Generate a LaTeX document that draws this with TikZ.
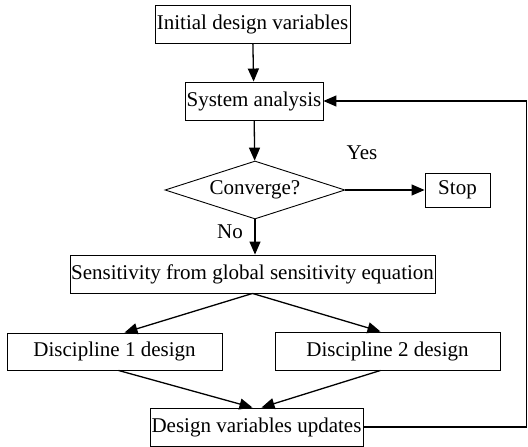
\documentclass[tikz,border=0pt]{standalone}
\usepackage{fontspec}
\setmainfont{Liberation Serif}
\usepackage{tikz}
\usetikzlibrary{arrows.meta,positioning,shapes.geometric}

\begin{document}
\begin{tikzpicture}[x=1pt,y=-1pt,font=\fontsize{21}{24}\selectfont,
  box/.style={draw,line width=0.9pt,inner sep=0.5pt,minimum height=38pt},
  decision/.style={draw,diamond,aspect=3,line width=0.9pt,inner sep=0pt,minimum width=180pt,minimum height=58pt},
  flow/.style={line width=1.3pt,-{Triangle[length=13pt,width=11pt]}}]
\useasboundingbox (0,0) rectangle (528,447);
\node[box,minimum width=195pt] (init) at (252.5,24) {Initial design variables};
\node[box,minimum width=138pt] (sys) at (254,101) {System analysis};
\node[decision] (conv) at (255,190) {Converge?};
\node[box,minimum width=65pt,minimum height=34pt] (stop) at (457.5,190) {Stop};
\node[box,minimum width=365pt] (sens) at (252.5,274) {Sensitivity from global sensitivity equation};
\node[box,minimum width=215pt,minimum height=37pt] (dis1) at (114.5,351.5) {Discipline 1 design};
\node[box,minimum width=225pt] (dis2) at (387.5,351) {Discipline 2 design};
\node[box,minimum width=213pt] (upd) at (256.5,427) {Design variables updates};
\node (yes) at (362,153) {Yes};
\node (no) at (230,232) {No};
\coordinate (back) at (526.5,0);
% main flow
\draw[flow] (init) -- (sys);
\draw[flow] (sys) -- (conv);
\draw[flow] (conv.east) -- (stop.west);
\draw[flow] (conv.south) -- (sens.north -| conv.south);
\draw[flow] (sens.south) -- ([xshift=10pt]dis1.north);
\draw[flow] (sens.south) -- ([xshift=-7pt]dis2.north);
\draw[flow] ([xshift=4pt]dis1.south) -- ([xshift=-4pt]upd.north);
\draw[flow] ([xshift=-7pt]dis2.south) -- ([xshift=5pt]upd.north);
% loop back
\draw[flow] (upd.east) -- (upd.east -| back) -- (sys.east -| back) -- (sys.east);
\end{tikzpicture}
\end{document}
